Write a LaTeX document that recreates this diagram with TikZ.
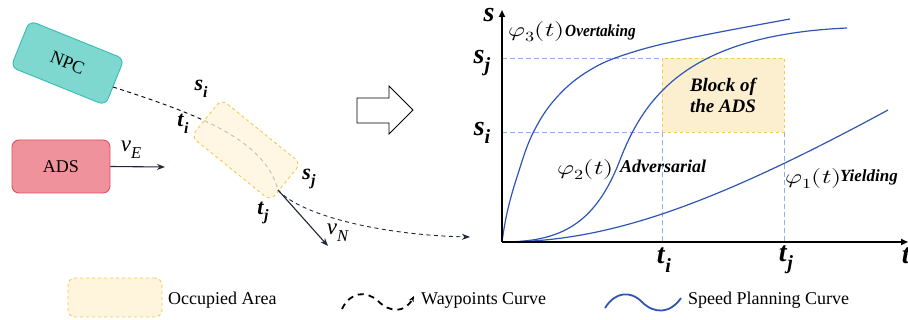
\documentclass[tikz,border=0pt]{standalone}
\usepackage{fontspec}
\usepackage{unicode-math}
\setmainfont{Liberation Serif}
\setmathfont{Latin Modern Math}
\usetikzlibrary{arrows.meta}
\newcommand{\fsz}[1]{\fontsize{#1}{#1}\selectfont}
\newcommand{\bisub}[2]{\textbf{\textit{#1}}\raisebox{-0.3em}{\scalebox{0.72}{\textbf{\textit{#2}}}}}
\newcommand{\isub}[2]{\textit{#1}\raisebox{-0.3em}{\scalebox{0.72}{\textit{#2}}}}
\definecolor{npcfill}{HTML}{7FD8CF}
\definecolor{npcdraw}{HTML}{35BDB1}
\definecolor{adsfill}{HTML}{F0929B}
\definecolor{adsdraw}{HTML}{E0505E}
\definecolor{occfill}{HTML}{FFF5DD}
\definecolor{occdraw}{HTML}{F5C94A}
\definecolor{blkfill}{HTML}{FCEFCF}
\definecolor{spdblue}{HTML}{2F55B4}
\definecolor{guideblue}{HTML}{8CB0EA}
\definecolor{navy}{HTML}{1E2838}
\begin{document}
\begin{tikzpicture}[x=1pt,y=-1pt,
  carbox/.style={draw, line width=0.9pt, rounded corners=7pt, inner sep=0pt, font=\fsz{18}},
  occbox/.style={draw=occdraw, fill=occfill, dashed, line width=0.9pt, rounded corners=7pt, inner sep=0pt},
  wp/.style={draw=black, line width=0.9pt, dash pattern=on 4pt off 3.5pt},
  navyarr/.style={draw=navy, line width=1.1pt, -{Stealth[length=8pt,width=6pt]}},
  spd/.style={draw=spdblue, line width=1.2pt},
  guide/.style={draw=guideblue, line width=0.9pt, dash pattern=on 5pt off 3pt},
  axisline/.style={draw=black, line width=1.8pt, -{Triangle[length=7pt,width=6pt]}},
  lbl/.style={inner sep=0pt, font=\fsz{22}},
  axlbl/.style={inner sep=0pt, font=\fsz{28}},
  mathlbl/.style={inner sep=0pt, anchor=base west, font=\fsz{20}},
  tag/.style={inner sep=0pt, anchor=base west},
  legtxt/.style={inner sep=0pt, anchor=base west, font=\fsz{18}}
]
\useasboundingbox (0,0) rectangle (908,320);
\fill[white] (0,0) rectangle (908,320);

% ---------- left scene ----------
\node[carbox, draw=npcdraw, fill=npcfill, minimum width=102pt, minimum height=50pt, rotate=-22] (npc) at (67.5,63) {NPC};
\node[carbox, draw=adsdraw, fill=adsfill, minimum width=98pt, minimum height=53pt] (ads) at (61,166.5) {ADS};

\coordinate (w0) at (113,87);
\coordinate (w1) at (278,190);
\coordinate (w2) at (470,237);
\coordinate (vEend) at (165,167);
\coordinate (vNend) at (328,246);

\draw[wp] (w0) .. controls (200,115) and (265,140) .. (w1);
\node[occbox, fill opacity=0.78, minimum width=102pt, minimum height=48pt, rotate=-39] (occ) at (246,150) {};
\draw[wp, -{Stealth[length=8pt,width=6pt]}, draw=navy] (w1) .. controls (300,215) and (380,235) .. (w2);
\draw[navyarr] (ads.east) -- (vEend);
\draw[navyarr] (w1) -- (vNend);

\node[lbl] (si) at (201,89) {\bisub{s}{i}};
\node[lbl] (ti) at (183,124) {\bisub{t}{i}};
\node[lbl] (sj) at (309,179) {\bisub{s}{j}};
\node[lbl] (tj) at (263,213) {\bisub{t}{j}};
\node[lbl, font=\fsz{23}] (vE) at (131,150) {\isub{v}{E}};
\node[lbl, font=\fsz{23}] (vN) at (338,233) {\isub{v}{N}};

% ---------- hollow arrow ----------
\draw[line width=0.9pt, fill=white] (357,98) -- (389,98) -- (389,86) -- (413,110) -- (389,134) -- (389,123) -- (357,123) -- cycle;

% ---------- graph ----------
\coordinate (O) at (502,242);
\coordinate (ytop) at (502,10);
\coordinate (xend) at (908,242);

\draw[guide] (502,58) -- (662,58);
\draw[guide] (502,132) -- (662,132);
\draw[guide] (662,132) -- (662,242);
\draw[guide] (784,132) -- (784,242);
\node[draw=occdraw, fill=blkfill, dashed, line width=0.9pt, minimum width=122pt, minimum height=74pt, inner sep=0pt] (blk) at (723,95) {};
\node[inner sep=0pt, align=center, font=\fsz{19}\bfseries\itshape] (blktxt) at (723,95) {Block of\\[2pt]the ADS};

% phi3 overtaking
\draw[spd] plot[smooth, tension=0.65] coordinates {(502,242) (507,213) (517,177) (533,133) (557,97) (590,70) (630,53) (690,38) (790,19)};
% phi2 adversarial
\draw[spd] (O) .. controls (560,242) and (595,225) .. (620,160) .. controls (645,95) and (690,35) .. (847,28);
% phi1 yielding
\draw[spd] (O) .. controls (600,242) and (700,212) .. (888,110);

\draw[axisline] (O) -- (ytop);
\draw[axisline] (O) -- (xend);

\node[axlbl] (sax) at (489,15) {\textbf{\textit{s}}};
\node[axlbl] (sjax) at (482,63) {\bisub{s}{j}};
\node[axlbl] (siax) at (482,133) {\bisub{s}{i}};
\node[axlbl] (tiax) at (664,260) {\bisub{t}{i}};
\node[axlbl] (tjax) at (786,260) {\bisub{t}{j}};
\node[axlbl] (tax) at (906,256) {\textbf{\textit{t}}};

\node[mathlbl] (phi3) at (508,37) {\scalebox{1.3}[1]{$\varphi_3(t)$}};
\node[tag, font=\fsz{17}\bfseries\itshape] (over) at (565,37) {\scalebox{0.9}[1]{Overtaking}};
\node[mathlbl] (phi2) at (557,175) {\scalebox{1.3}[1]{$\varphi_2(t)$}};
\node[tag, font=\fsz{18}\bfseries\itshape] (adv) at (620,173) {Adversarial};
\node[mathlbl] (phi1) at (785,184) {\scalebox{1.3}[1]{$\varphi_1(t)$}};
\node[tag, font=\fsz{17}\bfseries\itshape] (yie) at (840,182) {Yielding};

% ---------- legend ----------
\node[occbox, minimum width=94pt, minimum height=39pt] (legocc) at (115,297.5) {};
\node[legtxt] (legocctxt) at (168,305) {Occupied Area};
\coordinate (lw0) at (342,309);
\coordinate (lw1) at (414,296);
\draw[draw=black, line width=1.8pt, dash pattern=on 6pt off 5pt, -{Stealth[length=6pt,width=5pt]}]
  (lw0) .. controls (350,292) and (366,290) .. (378,301) .. controls (390,313) and (405,313) .. (lw1);
\node[legtxt] (legwptxt) at (421,305) {Waypoints Curve};
\coordinate (ls0) at (605,308);
\coordinate (ls1) at (681,298);
\draw[draw=spdblue, line width=1.8pt]
  (ls0) .. controls (615,292) and (630,290) .. (642,302) .. controls (654,314) and (670,314) .. (ls1);
\node[legtxt] (legsptxt) at (688,305) {Speed Planning Curve};
\end{tikzpicture}
\end{document}
